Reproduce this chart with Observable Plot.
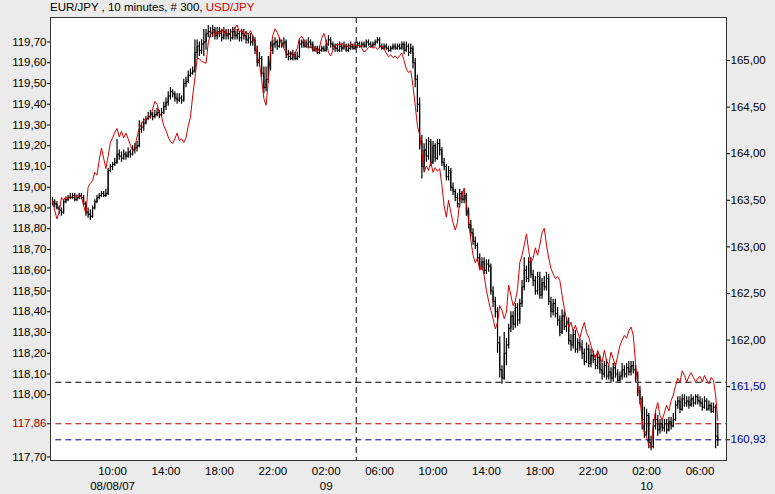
<!DOCTYPE html>
<html><head><meta charset="utf-8">
<script src="https://cdn.jsdelivr.net/npm/d3@7"></script>
<script src="https://cdn.jsdelivr.net/npm/@observablehq/plot@0.6"></script>
<style>
html,body{margin:0;padding:0;background:#ebebeb;}
body{font-family:"Liberation Sans",Arial,sans-serif;width:775px;height:494px;overflow:hidden;}
#title{height:16px;font-size:11.5px;line-height:15px;padding-left:50px;white-space:pre;color:#000;}
#chart svg{display:block;}
</style></head><body>
<div id="title">EUR/JPY , 10 minutes, # 300, <span style="color:#dd0000">USD/JPY</span></div>
<div id="chart"></div>
<script>
// ---- data: EUR/JPY 10-minute bars (left axis) ----
const eurHigh = [
118.95,118.94,118.93,118.91,118.90,118.94,118.95,118.96,118.97,118.97,
118.97,118.96,118.97,118.97,118.96,118.93,118.90,118.89,118.91,118.94,
118.96,118.97,118.98,118.98,118.99,119.09,119.11,119.12,119.14,119.23,
119.18,119.17,119.18,119.17,119.19,119.18,119.20,119.21,119.22,119.32,
119.31,119.33,119.34,119.36,119.37,119.36,119.37,119.38,119.37,119.38,
119.41,119.43,119.46,119.48,119.47,119.46,119.45,119.45,119.44,119.52,
119.53,119.56,119.57,119.58,119.71,119.71,119.70,119.71,119.76,119.76,
119.78,119.77,119.78,119.77,119.77,119.77,119.76,119.77,119.76,119.76,
119.76,119.77,119.77,119.76,119.75,119.76,119.76,119.75,119.74,119.74,
119.73,119.72,119.68,119.65,119.63,119.58,119.58,119.63,119.70,119.71,
119.72,119.71,119.72,119.71,119.72,119.71,119.66,119.65,119.66,119.65,
119.65,119.71,119.71,119.71,119.71,119.72,119.71,119.70,119.68,119.68,
119.68,119.68,119.68,119.71,119.73,119.72,119.70,119.69,119.69,119.70,
119.69,119.70,119.69,119.69,119.70,119.69,119.70,119.70,119.70,119.70,
119.70,119.71,119.71,119.70,119.70,119.71,119.72,119.72,119.69,119.69,
119.69,119.68,119.68,119.69,119.69,119.69,119.69,119.70,119.70,119.70,
119.69,119.69,119.68,119.62,119.54,119.43,119.25,119.21,119.23,119.24,
119.23,119.22,119.21,119.23,119.23,119.19,119.14,119.11,119.10,119.09,
119.02,118.99,118.97,118.99,118.98,118.99,118.97,118.90,118.84,118.80,
118.76,118.73,118.68,118.66,118.66,118.65,118.65,118.63,118.52,118.47,
118.42,118.28,118.14,118.30,118.27,118.34,118.40,118.40,118.44,118.44,
118.46,118.55,118.66,118.62,118.66,118.66,118.60,118.57,118.59,118.59,
118.56,118.57,118.59,118.58,118.47,118.46,118.46,118.42,118.38,118.41,
118.40,118.37,118.37,118.29,118.31,118.31,118.27,118.27,118.26,118.22,
118.25,118.24,118.22,118.21,118.19,118.20,118.19,118.15,118.16,118.17,
118.14,118.13,118.15,118.15,118.12,118.11,118.15,118.14,118.15,118.16,
118.16,118.16,118.14,118.11,118.04,117.99,117.94,117.93,117.91,117.80,
117.88,117.91,117.90,117.88,117.88,117.88,117.88,117.89,117.89,117.91,
117.97,117.99,117.99,118.00,118.00,117.99,117.99,118.00,117.99,118.00,
118.00,117.99,117.98,117.99,117.98,117.97,117.96,117.96,117.95,117.86];
const eurLow = [
118.91,118.90,118.89,118.87,118.86,118.87,118.92,118.93,118.94,118.94,
118.93,118.93,118.94,118.94,118.91,118.86,118.85,118.84,118.85,118.89,
118.92,118.94,118.95,118.95,118.95,118.96,119.07,119.08,119.10,119.11,
119.13,119.12,119.13,119.13,119.14,119.14,119.15,119.16,119.17,119.19,
119.26,119.27,119.30,119.32,119.33,119.32,119.33,119.34,119.33,119.34,
119.35,119.37,119.39,119.42,119.43,119.41,119.40,119.41,119.40,119.41,
119.48,119.50,119.53,119.54,119.55,119.62,119.63,119.64,119.63,119.66,
119.72,119.72,119.72,119.71,119.71,119.72,119.70,119.71,119.71,119.71,
119.70,119.71,119.71,119.71,119.70,119.70,119.71,119.69,119.69,119.68,
119.68,119.64,119.58,119.58,119.53,119.45,119.46,119.50,119.56,119.64,
119.67,119.66,119.67,119.67,119.67,119.62,119.61,119.61,119.61,119.61,
119.61,119.62,119.67,119.67,119.67,119.67,119.67,119.65,119.65,119.64,
119.64,119.65,119.65,119.65,119.68,119.67,119.66,119.65,119.65,119.65,
119.65,119.66,119.65,119.65,119.66,119.66,119.66,119.67,119.67,119.67,
119.67,119.67,119.68,119.67,119.67,119.68,119.69,119.67,119.66,119.66,
119.66,119.65,119.65,119.66,119.66,119.66,119.66,119.66,119.64,119.65,
119.63,119.64,119.57,119.48,119.36,119.18,119.04,119.08,119.12,119.13,
119.10,119.11,119.12,119.13,119.15,119.10,119.08,119.03,119.03,118.98,
118.96,118.93,118.90,118.90,118.92,118.92,118.86,118.80,118.76,118.72,
118.70,118.64,118.60,118.60,118.58,118.58,118.59,118.48,118.42,118.37,
118.20,118.08,118.05,118.07,118.14,118.22,118.30,118.31,118.32,118.33,
118.34,118.42,118.50,118.54,118.54,118.56,118.52,118.48,118.48,118.46,
118.46,118.50,118.50,118.43,118.37,118.38,118.37,118.33,118.28,118.29,
118.31,118.30,118.24,118.21,118.22,118.20,118.20,118.21,118.17,118.14,
118.15,118.13,118.13,118.15,118.12,118.12,118.10,118.07,118.08,118.07,
118.07,118.06,118.06,118.08,118.06,118.06,118.07,118.08,118.08,118.09,
118.09,118.10,118.06,117.99,117.95,117.83,117.79,117.80,117.74,117.73,
117.74,117.83,117.80,117.81,117.82,117.82,117.81,117.82,117.83,117.84,
117.87,117.93,117.91,117.92,117.94,117.94,117.93,117.94,117.94,117.95,
117.95,117.94,117.92,117.93,117.92,117.92,117.91,117.91,117.74,117.75];
const eurClose = [
118.93,118.92,118.90,118.89,118.88,118.93,118.94,118.95,118.95,118.96,
118.94,118.95,118.96,118.95,118.92,118.88,118.87,118.86,118.90,118.93,
118.95,118.96,118.97,118.96,118.97,119.08,119.10,119.11,119.12,119.16,
119.15,119.14,119.16,119.15,119.17,119.16,119.18,119.19,119.20,119.28,
119.29,119.31,119.33,119.34,119.35,119.34,119.35,119.36,119.35,119.36,
119.39,119.41,119.44,119.46,119.45,119.43,119.42,119.43,119.42,119.50,
119.51,119.54,119.55,119.56,119.65,119.68,119.66,119.69,119.70,119.74,
119.75,119.74,119.76,119.73,119.75,119.74,119.72,119.75,119.73,119.74,
119.72,119.75,119.73,119.74,119.72,119.74,119.73,119.71,119.72,119.70,
119.71,119.66,119.60,119.62,119.55,119.48,119.52,119.60,119.66,119.69,
119.70,119.68,119.70,119.69,119.70,119.64,119.63,119.62,119.64,119.62,
119.63,119.69,119.70,119.68,119.69,119.70,119.69,119.66,119.67,119.65,
119.66,119.67,119.66,119.69,119.71,119.69,119.68,119.67,119.66,119.68,
119.67,119.68,119.66,119.67,119.68,119.67,119.68,119.69,119.68,119.69,
119.68,119.70,119.69,119.68,119.69,119.70,119.71,119.68,119.67,119.68,
119.67,119.66,119.67,119.68,119.67,119.68,119.67,119.69,119.66,119.68,
119.65,119.67,119.60,119.52,119.40,119.22,119.10,119.18,119.15,119.22,
119.12,119.20,119.14,119.21,119.18,119.12,119.10,119.05,119.08,119.00,
118.98,118.95,118.92,118.97,118.94,118.96,118.88,118.82,118.78,118.74,
118.72,118.66,118.62,118.64,118.60,118.63,118.62,118.50,118.45,118.40,
118.25,118.12,118.08,118.20,118.24,118.32,118.38,118.34,118.42,118.36,
118.44,118.52,118.60,118.56,118.64,118.58,118.55,118.50,118.57,118.48,
118.54,118.52,118.56,118.45,118.40,118.44,118.39,118.36,118.30,118.38,
118.33,118.35,118.26,118.24,118.29,118.22,118.25,118.23,118.20,118.16,
118.22,118.15,118.19,118.17,118.14,118.18,118.12,118.10,118.14,118.09,
118.11,118.08,118.13,118.10,118.07,118.09,118.12,118.10,118.13,118.11,
118.14,118.12,118.10,118.02,117.98,117.88,117.82,117.90,117.77,117.75,
117.85,117.88,117.83,117.86,117.84,117.86,117.83,117.87,117.85,117.88,
117.95,117.97,117.93,117.98,117.96,117.97,117.95,117.98,117.96,117.99,
117.97,117.96,117.94,117.97,117.93,117.95,117.92,117.94,117.80,117.78];
// ---- data: USD/JPY 10-minute closes (right axis) ----
const usdClose = [
163.50,163.39,163.30,163.37,163.53,163.50,163.54,163.51,163.55,163.52,
163.54,163.56,163.53,163.55,163.44,163.36,163.64,163.68,163.71,163.80,
163.77,163.93,164.06,163.95,163.84,163.97,164.12,164.17,164.23,164.27,
164.18,164.24,164.17,164.22,164.16,164.09,164.03,164.07,164.18,164.27,
164.32,164.36,164.37,164.39,164.38,164.48,164.56,164.53,164.44,164.40,
164.30,164.25,164.18,164.13,164.11,164.16,164.22,164.14,164.16,164.12,
164.17,164.30,164.39,164.62,164.81,165.02,165.02,164.99,164.98,164.97,
165.19,165.29,165.32,165.27,165.31,165.28,165.34,165.29,165.32,165.26,
165.30,165.32,165.35,165.38,165.30,165.33,165.27,165.31,165.28,165.32,
165.26,165.21,165.05,164.97,164.79,164.59,164.52,164.79,165.11,165.27,
165.34,165.30,165.24,165.19,165.13,165.09,165.05,165.10,165.04,165.08,
165.13,165.24,165.26,165.22,165.17,165.13,165.16,165.11,165.15,165.09,
165.14,165.24,165.29,165.21,165.09,165.05,165.11,165.15,165.18,165.16,
165.19,165.15,165.17,165.14,165.18,165.16,165.17,165.15,165.17,165.13,
165.09,165.11,165.14,165.16,165.13,165.15,165.12,165.14,165.16,165.13,
165.08,165.04,165.06,165.03,165.05,165.02,165.05,165.08,165.00,164.91,
164.87,164.89,164.73,164.52,164.30,164.20,164.03,163.80,163.87,163.82,
163.91,163.80,163.85,163.81,163.84,163.66,163.44,163.32,163.50,163.37,
163.26,163.18,163.26,163.50,163.55,163.63,163.47,163.28,163.07,162.91,
162.83,162.88,162.75,162.80,162.69,162.53,162.42,162.32,162.23,162.12,
162.19,162.37,162.32,162.23,162.30,162.59,162.48,162.37,162.42,162.55,
162.83,162.91,163.02,163.14,162.96,162.83,162.88,162.99,162.91,163.02,
163.15,163.20,163.02,162.88,162.77,162.71,162.66,162.68,162.64,162.48,
162.34,162.23,162.14,162.19,162.10,162.16,162.08,162.02,162.12,162.19,
162.08,162.03,161.94,161.87,161.80,161.89,161.82,161.76,161.89,161.78,
161.73,161.87,161.80,161.72,161.83,161.94,162.00,162.05,162.02,162.10,
162.14,162.05,161.76,161.51,161.37,161.14,161.01,160.96,160.87,160.84,
161.08,161.24,161.33,161.19,161.14,161.22,161.30,161.24,161.35,161.41,
161.51,161.59,161.55,161.67,161.62,161.55,161.61,161.65,161.60,161.55,
161.59,161.61,161.55,161.62,161.57,161.53,161.60,161.57,161.41,161.14];

// ---- axes / annotations ----
const firstBar = "2007-08-08T05:30Z";
const barMinutes = 10;
const timeTicks = ["2007-08-08T10:00Z","2007-08-08T14:00Z","2007-08-08T18:00Z","2007-08-08T22:00Z",
  "2007-08-09T02:00Z","2007-08-09T06:00Z","2007-08-09T10:00Z","2007-08-09T14:00Z",
  "2007-08-09T18:00Z","2007-08-09T22:00Z","2007-08-10T02:00Z","2007-08-10T06:00Z"];
const timeLabels = ["10:00","14:00","18:00","22:00","02:00","06:00","10:00","14:00","18:00","22:00","02:00","06:00"];
const dateTicks = ["2007-08-08T10:00Z","2007-08-09T02:00Z","2007-08-10T02:00Z"];
const dateLabels = ["08/08/07","09","10"];
const eurTicks = [119.7,119.6,119.5,119.4,119.3,119.2,119.1,119.0,118.9,118.8,118.7,118.6,118.5,118.4,118.3,118.2,118.1,118.0,117.7];
const eurMarkTick = [117.86];
const usdTicks = [165.0,164.5,164.0,163.5,163.0,162.5,162.0];
const usdMarkTicks = [161.5,160.93];
const cursorTime = "2007-08-09T04:15Z";
const eurLevelBlack = 118.06;
const eurLevelRed = 117.86;
const usdLevelBlue = 160.93;

// right-axis (USD/JPY) to left-axis (EUR/JPY) alignment
const usdRef = 165.0, eurAtUsdRef = 119.6108, eurPerUsd = 0.44916;
const toLeft = u => eurAtUsdRef - (usdRef - u) * eurPerUsd;
const fromLeft = e => usdRef - (eurAtUsdRef - e) / eurPerUsd;
const fmt = v => v.toFixed(2).replace(".", ",");

const t0 = new Date(firstBar).getTime();
const stepMs = barMinutes * 60000;
const xStart = new Date(t0 - 0.9 * stepMs), xEnd = new Date(t0 + 302.9 * stepMs);
const bars = eurClose.map((c, i) => ({
  t: new Date(t0 + i * stepMs), hi: eurHigh[i], lo: eurLow[i], c, usd: toLeft(usdClose[i])
}));

const darkRed = "#a00000", darkBlue = "#00008c", lineRed = "#d40000";
const dash = "6,4";
const levelX1 = new Date(t0 + 1.5 * stepMs);

const chart = Plot.plot({
  width: 775, height: 478,
  marginTop: 1, marginBottom: 34, marginLeft: 50, marginRight: 49,
  style: {background: "#ebebeb", fontFamily: "'Liberation Sans', Arial, sans-serif", fontSize: "11.5px", color: "#000"},
  x: {type: "utc", domain: [xStart, xEnd], label: null},
  y: {domain: [117.683, 119.818], label: null},
  marks: [
    Plot.frame({fill: "white", stroke: "none"}),
    Plot.ruleY([eurLevelBlack], {x1: levelX1, x2: xEnd, stroke: "#000", strokeDasharray: dash}),
    Plot.ruleY([eurLevelRed], {x1: levelX1, x2: xEnd, stroke: darkRed, strokeDasharray: dash}),
    Plot.ruleY([toLeft(usdLevelBlue)], {x1: levelX1, x2: xEnd, stroke: darkBlue, strokeDasharray: dash}),
    Plot.ruleX([new Date(cursorTime)], {stroke: "#000", strokeDasharray: dash}),
    Plot.ruleX(bars, {x: "t", y1: "lo", y2: "hi", stroke: "#000", strokeWidth: 1.2}),
    Plot.line(bars, {x: "t", y: "c", curve: "step-after", stroke: "#000", strokeWidth: 1}),
    Plot.line(bars, {x: "t", y: "usd", stroke: lineRed, strokeWidth: 1}),
    Plot.frame({stroke: "#333"}),
    Plot.axisY(eurTicks, {anchor: "left", tickSize: 3, tickPadding: 1, tickFormat: fmt, label: null}),
    Plot.axisY(eurMarkTick, {anchor: "left", tickSize: 3, tickPadding: 1, tickFormat: fmt, fill: darkRed, label: null}),
    Plot.axisY(usdTicks.map(toLeft), {anchor: "right", tickSize: 3, tickPadding: 1, tickFormat: d => fmt(fromLeft(d)), label: null}),
    Plot.axisY(usdMarkTicks.map(toLeft), {anchor: "right", tickSize: 3, tickPadding: 1, tickFormat: d => fmt(fromLeft(d)), fill: darkBlue, label: null}),
    Plot.axisX(timeTicks.map(d => new Date(d)), {tickSize: 0, tickPadding: 6.5, tickFormat: (d, i) => timeLabels[timeTicks.findIndex(s => new Date(s).getTime() === d.getTime())], label: null}),
    Plot.text(dateTicks, {x: d => new Date(d), text: (d, i) => dateLabels[i], frameAnchor: "bottom", lineAnchor: "top", dy: 21.5})
  ]
});
document.getElementById("chart").appendChild(chart);
</script>
</body></html>
